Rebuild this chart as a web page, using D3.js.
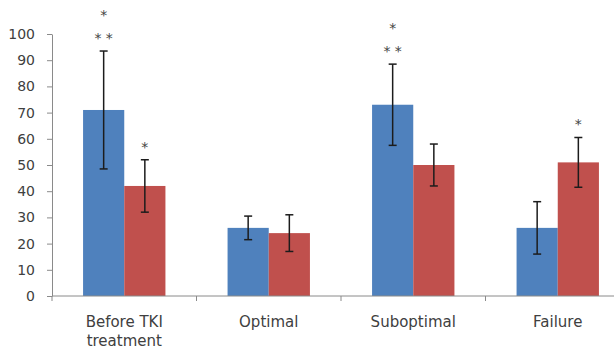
<!DOCTYPE html>
<html>
<head>
<meta charset="utf-8">
<script src="https://cdn.jsdelivr.net/npm/d3@7"></script>
<style>
  body { margin: 0; background: #fff; }
  svg { display: block; }
</style>
</head>
<body>
<div id="chart"></div>
<script>
// values
const categories = ["Before TKI treatment", "Optimal", "Suboptimal", "Failure"];
const seriesNames = ["blue", "red"];
const blueValues = [71, 26, 73, 26];
const blueErrors = [22.5, 4.5, 15.5, 10];
const redValues = [42, 24, 50, 51];
const redErrors = [10, 7, 8, 9.5];
// significance marks drawn above each error bar (bottom line first)
const blueMarks = [["* *", "*"], [], ["* *", "*"], []];
const redMarks = [["*"], [], [], ["*"]];
const yTicks = [0, 10, 20, 30, 40, 50, 60, 70, 80, 90, 100];

const colors = { blue: "#4F81BD", red: "#C0504D" };

const W = 614, H = 351;
const mLeft = 52, mBottom = 296, mTop = 34;

const svg = d3.select("#chart")
  .append("svg")
    .attr("width", W)
    .attr("height", H)

const x0 = d3.scaleBand()
  .domain(categories)
  .range([mLeft, mLeft + 578])
  .paddingInner(0.43)
  .paddingOuter(0.215)

const x1 = d3.scaleBand()
  .domain(seriesNames)
  .range([0, x0.bandwidth()])

const y = d3.scaleLinear()
  .domain([0, 100])
  .range([mBottom, mTop])

// build rows for the bars
const rows = [];
categories.forEach((c, i) => {
  rows.push({ cat: c, s: "blue", v: blueValues[i], e: blueErrors[i], marks: blueMarks[i] })
  rows.push({ cat: c, s: "red", v: redValues[i], e: redErrors[i], marks: redMarks[i] })
})

// bars
svg.selectAll("rect.bar")
  .data(rows)
  .enter()
  .append("rect")
    .attr("class", "bar")
    .attr("x", d => x0(d.cat) + x1(d.s))
    .attr("y", d => y(d.v))
    .attr("width", x1.bandwidth())
    .attr("height", d => y(0) - y(d.v))
    .attr("fill", d => colors[d.s])

// axes
const yAxis = svg.append("g")
  .attr("transform", `translate(${mLeft},0)`)
  .call(d3.axisLeft(y).tickValues(yTicks).tickSize(5).tickPadding(12).tickSizeOuter(0))

yAxis.select(".domain").attr("stroke", "#8a8a8a")
yAxis.selectAll(".tick line").attr("stroke", "#8a8a8a")
yAxis.selectAll(".tick text")
  .attr("fill", "#404040")
  .attr("font-family", "DejaVu Sans")
  .attr("font-size", 14)

// x axis line with ticks between categories
const xAxis = svg.append("g")
xAxis.append("line")
  .attr("x1", mLeft).attr("x2", W)
  .attr("y1", y(0)).attr("y2", y(0))
  .attr("stroke", "#8a8a8a")

const bounds = [mLeft].concat(categories.map(c => x0(c) - x0.step() * x0.paddingInner() / 2 + x0.step()))
xAxis.selectAll("line.xt")
  .data(bounds)
  .enter()
  .append("line")
    .attr("class", "xt")
    .attr("x1", d => d).attr("x2", d => d)
    .attr("y1", y(0)).attr("y2", y(0) + 5)
    .attr("stroke", "#8a8a8a")

// category labels
const labels = svg.selectAll("text.cat")
  .data(categories)
  .enter()
  .append("text")
    .attr("class", "cat")
    .attr("text-anchor", "middle")
    .attr("font-family", "DejaVu Sans")
    .attr("font-size", 15)
    .attr("fill", "#404040")

labels.each(function(d) {
  const cx = x0(d) + x0.bandwidth() / 2
  const lines = d === "Before TKI treatment" ? ["Before TKI", "treatment"] : [d]
  lines.forEach((t, i) => {
    d3.select(this).append("tspan")
      .attr("x", cx)
      .attr("y", 327 + i * 19)
      .text(t)
  })
})

// error bars
const eb = svg.selectAll("g.err")
  .data(rows)
  .enter()
  .append("g")
    .attr("class", "err")
    .attr("stroke", "#1c1c1c")
    .attr("stroke-width", 1.5)

eb.append("line")
  .attr("x1", d => x0(d.cat) + x1(d.s) + x1.bandwidth() / 2)
  .attr("x2", d => x0(d.cat) + x1(d.s) + x1.bandwidth() / 2)
  .attr("y1", d => y(d.v + d.e))
  .attr("y2", d => y(d.v - d.e))

eb.selectAll("line.cap")
  .data(d => [d.v + d.e, d.v - d.e].map(v => ({ d, v })))
  .enter()
  .append("line")
    .attr("class", "cap")
    .attr("x1", o => x0(o.d.cat) + x1(o.d.s) + x1.bandwidth() / 2 - 4)
    .attr("x2", o => x0(o.d.cat) + x1(o.d.s) + x1.bandwidth() / 2 + 4)
    .attr("y1", o => y(o.v))
    .attr("y2", o => y(o.v))

// asterisks
rows.forEach(d => {
  d.marks.forEach((m, i) => {
    svg.append("text")
      .attr("x", x0(d.cat) + x1(d.s) + x1.bandwidth() / 2)
      .attr("y", y(d.v + d.e) - 13 - i * 23 + 5)
      .attr("text-anchor", "middle")
      .attr("font-family", "DejaVu Sans")
      .attr("font-size", 14)
      .attr("fill", "#444")
      .text(m)
  })
})
</script>
</body>
</html>
